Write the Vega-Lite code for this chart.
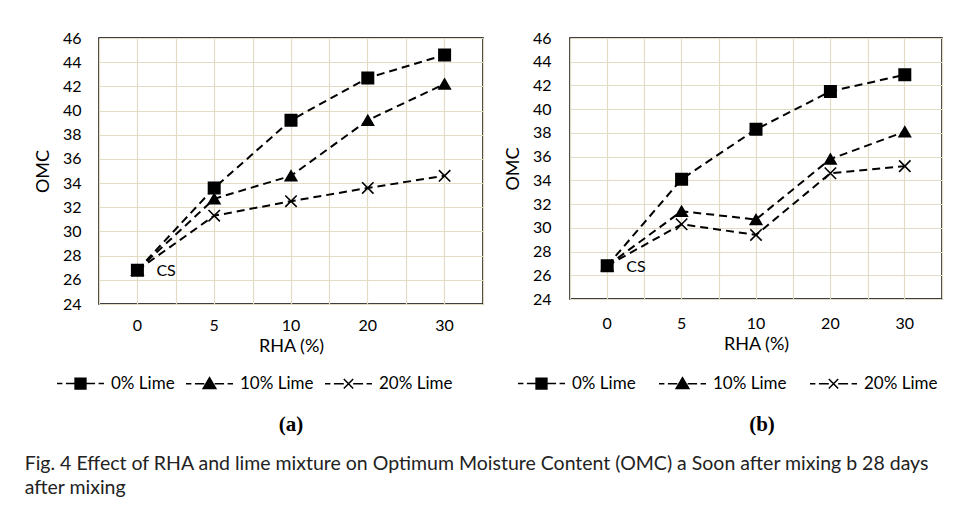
{
  "$schema": "https://vega.github.io/schema/vega-lite/v6.json",
  "padding": {"left": 24, "top": 29, "right": 5, "bottom": 5},
  "title": {
    "text": ["Fig. 4  Effect of RHA and lime mixture on Optimum Moisture Content (OMC) a Soon after mixing b 28 days", "after mixing"],
    "orient": "bottom", "anchor": "start", "font": "Lato", "fontSize": 19.5, "fontWeight": "normal",
    "color": "#222222", "dx": -9, "offset": 19, "lineHeight": 24
  },
  "datasets": {
    "a": [
      {"RHA": 0, "Lime": "20% Lime", "OMC": 26.8}, {"RHA": 5, "Lime": "20% Lime", "OMC": 31.3}, {"RHA": 10, "Lime": "20% Lime", "OMC": 32.5}, {"RHA": 20, "Lime": "20% Lime", "OMC": 33.6}, {"RHA": 30, "Lime": "20% Lime", "OMC": 34.6},
      {"RHA": 0, "Lime": "10% Lime", "OMC": 26.8}, {"RHA": 5, "Lime": "10% Lime", "OMC": 32.7}, {"RHA": 10, "Lime": "10% Lime", "OMC": 34.6}, {"RHA": 20, "Lime": "10% Lime", "OMC": 39.2}, {"RHA": 30, "Lime": "10% Lime", "OMC": 42.2},
      {"RHA": 0, "Lime": "0% Lime", "OMC": 26.8}, {"RHA": 5, "Lime": "0% Lime", "OMC": 33.6}, {"RHA": 10, "Lime": "0% Lime", "OMC": 39.2}, {"RHA": 20, "Lime": "0% Lime", "OMC": 42.7}, {"RHA": 30, "Lime": "0% Lime", "OMC": 44.6}
    ],
    "b": [
      {"RHA": 0, "Lime": "20% Lime", "OMC": 26.8}, {"RHA": 5, "Lime": "20% Lime", "OMC": 30.3}, {"RHA": 10, "Lime": "20% Lime", "OMC": 29.4}, {"RHA": 20, "Lime": "20% Lime", "OMC": 34.6}, {"RHA": 30, "Lime": "20% Lime", "OMC": 35.2},
      {"RHA": 0, "Lime": "10% Lime", "OMC": 26.8}, {"RHA": 5, "Lime": "10% Lime", "OMC": 31.4}, {"RHA": 10, "Lime": "10% Lime", "OMC": 30.7}, {"RHA": 20, "Lime": "10% Lime", "OMC": 35.8}, {"RHA": 30, "Lime": "10% Lime", "OMC": 38.1},
      {"RHA": 0, "Lime": "0% Lime", "OMC": 26.8}, {"RHA": 5, "Lime": "0% Lime", "OMC": 34.1}, {"RHA": 10, "Lime": "0% Lime", "OMC": 38.3}, {"RHA": 20, "Lime": "0% Lime", "OMC": 41.5}, {"RHA": 30, "Lime": "0% Lime", "OMC": 42.9}
    ],
    "cs": [{"RHA": 0, "OMC": 26.8, "label": "CS"}]
  },
  "spacing": 19,
  "hconcat": [
    {
      "width": 384, "height": 266,
      "title": {"text": "(a)", "orient": "bottom", "frame": "group", "font": "Liberation Serif", "fontSize": 21, "fontWeight": "bold", "anchor": "middle", "offset": 22, "color": "black"},
      "resolve": {"scale": {"shape": "independent"}, "legend": {"shape": "independent"}, "axis": {"x": "independent"}},
      "encoding": {
        "y": {"field": "OMC", "type": "quantitative", "scale": {"domain": [24, 46], "nice": false, "zero": false}, "axis": {"title": "OMC", "values": [24, 26, 28, 30, 32, 34, 36, 38, 40, 42, 44, 46], "labelOverlap": false, "labelPadding": 18, "titlePadding": 10, "grid": true}}
      },
      "layer": [
        {
          "data": {"name": "a"},
          "mark": {"type": "line", "color": "black", "strokeWidth": 2, "strokeDash": [8, 5]},
          "encoding": {
            "x": {"field": "RHA", "type": "ordinal", "scale": {"type": "band", "paddingInner": 0, "paddingOuter": 0}, "axis": {"orient": "bottom", "title": "RHA (%)", "labelAngle": 0, "labelPadding": 13, "titlePadding": 4, "grid": true, "bandPosition": 0.5}},
            "detail": {"field": "Lime"}
          }
        },
        {
          "data": {"name": "a"},
          "mark": {"type": "point", "filled": true, "fill": "black", "stroke": "black", "strokeWidth": 1.6, "opacity": 1, "size": 130},
          "encoding": {
            "x": {"field": "RHA", "type": "ordinal", "axis": {"orient": "top", "labels": false, "title": null, "grid": true, "tickBand": "extent"}},
            "shape": {"field": "Lime", "type": "nominal", "scale": {"domain": ["0% Lime", "10% Lime", "20% Lime"], "range": ["square", "triangle-up", "M-1,-1L1,1M-1,1L1,-1"]}, "legend": null}
          }
        },
        {
          "data": {"name": "a"},
          "mark": {"type": "point", "fill": "black", "stroke": "black", "strokeWidth": 1.6, "fillOpacity": 0, "strokeOpacity": 0},
          "encoding": {
            "x": {"field": "RHA", "type": "ordinal", "axis": null},
            "shape": {"field": "Lime", "type": "nominal",
              "scale": {"domain": ["0% Lime", "10% Lime", "20% Lime"], "range": [
                "M-1,0H-0.77M-0.62,0H-0.23M0.23,0H0.62M0.77,0H1M-0.23,-0.23H0.23V0.23H-0.23Z",
                "M-1,0H-0.77M-0.62,0H-0.22M0.22,0H0.62M0.77,0H1M0,-0.26L0.27,0.2H-0.27Z",
                "M-1,0H-0.77M-0.62,0H-0.2M0.2,0H0.62M0.77,0H1M-0.2,-0.2L0.2,0.2M-0.2,0.2L0.2,-0.2"]},
              "legend": {"orient": "none", "legendX": -43, "legendY": 321, "direction": "horizontal", "title": null, "symbolSize": 2209, "labelFont": "Lato", "labelFontSize": 17, "labelColor": "black", "labelOffset": 6, "columnPadding": 8,
                "encode": {"symbols": {"update": {"fill": {"value": "black"}, "stroke": {"value": "black"}, "strokeWidth": {"value": 1.6}, "fillOpacity": {"value": 1}, "strokeOpacity": {"value": 1}, "opacity": {"value": 1}}}}}}
          }
        },
        {
          "data": {"name": "cs"},
          "mark": {"type": "text", "align": "left", "baseline": "middle", "dx": 19, "dy": 1, "fontSize": 16, "font": "Lato", "color": "black"},
          "encoding": {
            "x": {"field": "RHA", "type": "ordinal", "axis": null},
            "text": {"field": "label"}
          }
        }
      ]
    },
    {
      "width": 372, "height": 261,
      "title": {"text": "(b)", "orient": "bottom", "frame": "group", "font": "Liberation Serif", "fontSize": 21, "fontWeight": "bold", "anchor": "middle", "offset": 22, "dx": 6, "color": "black"},
      "resolve": {"scale": {"shape": "independent"}, "legend": {"shape": "independent"}, "axis": {"x": "independent"}},
      "encoding": {
        "y": {"field": "OMC", "type": "quantitative", "scale": {"domain": [24, 46], "nice": false, "zero": false}, "axis": {"title": "OMC", "values": [24, 26, 28, 30, 32, 34, 36, 38, 40, 42, 44, 46], "labelOverlap": false, "labelPadding": 19, "titlePadding": 10, "grid": true}}
      },
      "layer": [
        {
          "data": {"name": "b"},
          "mark": {"type": "line", "color": "black", "strokeWidth": 2, "strokeDash": [8, 5]},
          "encoding": {
            "x": {"field": "RHA", "type": "ordinal", "scale": {"type": "band", "paddingInner": 0, "paddingOuter": 0}, "axis": {"orient": "bottom", "title": "RHA (%)", "labelAngle": 0, "labelPadding": 16, "titlePadding": 4, "grid": true, "bandPosition": 0.5}},
            "detail": {"field": "Lime"}
          }
        },
        {
          "data": {"name": "b"},
          "mark": {"type": "point", "filled": true, "fill": "black", "stroke": "black", "strokeWidth": 1.6, "opacity": 1, "size": 130},
          "encoding": {
            "x": {"field": "RHA", "type": "ordinal", "axis": {"orient": "top", "labels": false, "title": null, "grid": true, "tickBand": "extent"}},
            "shape": {"field": "Lime", "type": "nominal", "scale": {"domain": ["0% Lime", "10% Lime", "20% Lime"], "range": ["square", "triangle-up", "M-1,-1L1,1M-1,1L1,-1"]}, "legend": null}
          }
        },
        {
          "data": {"name": "b"},
          "mark": {"type": "point", "fill": "black", "stroke": "black", "strokeWidth": 1.6, "fillOpacity": 0, "strokeOpacity": 0},
          "encoding": {
            "x": {"field": "RHA", "type": "ordinal", "axis": null},
            "shape": {"field": "Lime", "type": "nominal",
              "scale": {"domain": ["0% Lime", "10% Lime", "20% Lime"], "range": [
                "M-1,0H-0.77M-0.62,0H-0.23M0.23,0H0.62M0.77,0H1M-0.23,-0.23H0.23V0.23H-0.23Z",
                "M-1,0H-0.77M-0.62,0H-0.22M0.22,0H0.62M0.77,0H1M0,-0.26L0.27,0.2H-0.27Z",
                "M-1,0H-0.77M-0.62,0H-0.2M0.2,0H0.62M0.77,0H1M-0.2,-0.2L0.2,0.2M-0.2,0.2L0.2,-0.2"]},
              "legend": {"orient": "none", "legendX": -53, "legendY": 321, "direction": "horizontal", "title": null, "symbolSize": 2209, "labelFont": "Lato", "labelFontSize": 17, "labelColor": "black", "labelOffset": 6, "columnPadding": 20,
                "encode": {"symbols": {"update": {"fill": {"value": "black"}, "stroke": {"value": "black"}, "strokeWidth": {"value": 1.6}, "fillOpacity": {"value": 1}, "strokeOpacity": {"value": 1}, "opacity": {"value": 1}}}}}}
          }
        },
        {
          "data": {"name": "cs"},
          "mark": {"type": "text", "align": "left", "baseline": "middle", "dx": 19, "dy": 1, "fontSize": 16, "font": "Lato", "color": "black"},
          "encoding": {
            "x": {"field": "RHA", "type": "ordinal", "axis": null},
            "text": {"field": "label"}
          }
        }
      ]
    }
  ],
  "config": {
    "font": "Lato",
    "background": "white",
    "view": {"stroke": "black", "strokeWidth": 1.5},
    "axis": {"gridColor": "#e3dcc5", "gridWidth": 1.2, "gridOpacity": 1, "domain": false, "ticks": false, "labelFont": "Lato", "labelFontSize": 16, "labelColor": "black", "titleFont": "Lato", "titleFontSize": 18, "titleFontWeight": "normal", "titleColor": "black"}
  }
}
